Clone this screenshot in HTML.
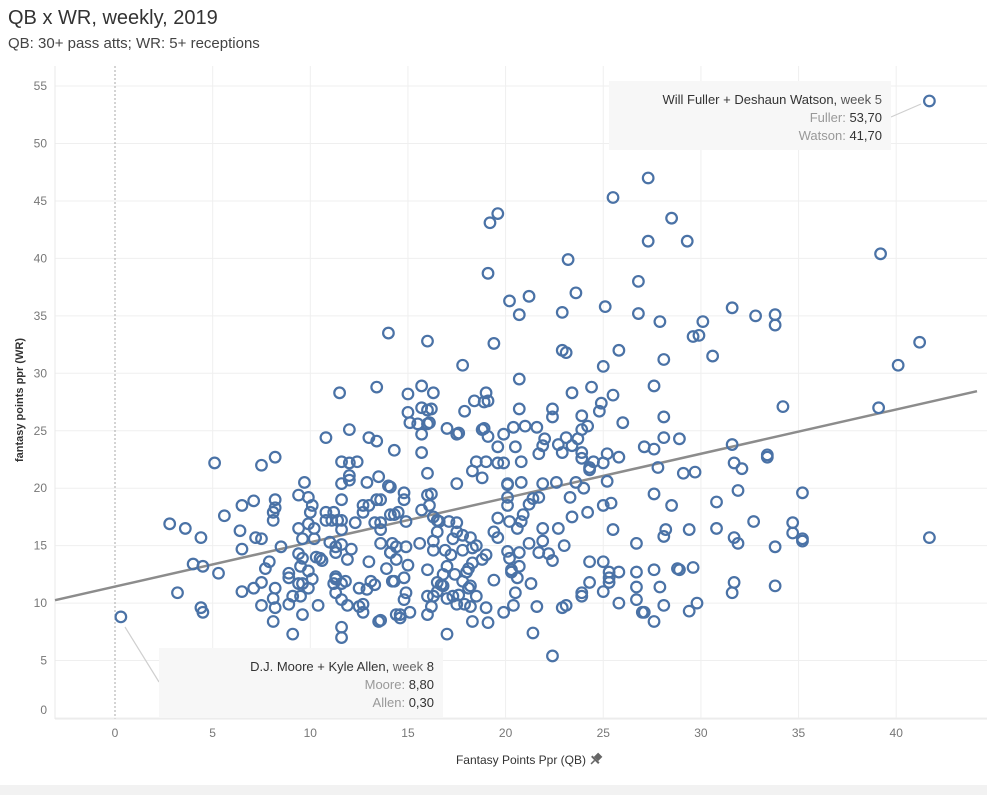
<!DOCTYPE html>
<html><head><meta charset="utf-8"><title>QB x WR, weekly, 2019</title>
<style>
html,body{margin:0;padding:0;background:#fff;}
body{width:987px;height:795px;overflow:hidden;font-family:"Liberation Sans",sans-serif;}
svg text{font-family:"Liberation Sans",sans-serif;}
</style></head>
<body>
<svg id="chart" width="987" height="795" viewBox="0 0 987 795" xmlns="http://www.w3.org/2000/svg">
  <text x="8" y="24" font-size="20" fill="#333">QB x WR, weekly, 2019</text>
  <text x="8" y="48" font-size="15" fill="#444">QB: 30+ pass atts; WR: 5+ receptions</text>
  <g id="grid"></g>
  <g id="axes"></g>
  <g id="trend"></g>
  <g id="marks"></g>
  <g id="annot">
    <line x1="891" y1="117" x2="921" y2="104" stroke="#cfcfcf" stroke-width="1.2"/>
    <rect x="609" y="81" width="282" height="69" fill="#f7f7f7"/>
    <text x="882" y="104" font-size="13" text-anchor="end" fill="#333">Will Fuller + Deshaun Watson, <tspan fill="#555">week 5</tspan></text>
    <text x="882" y="122" font-size="13" text-anchor="end" fill="#999">Fuller: <tspan fill="#333">53,70</tspan></text>
    <text x="882" y="140" font-size="13" text-anchor="end" fill="#999">Watson: <tspan fill="#333">41,70</tspan></text>
    <line x1="125" y1="627" x2="159" y2="682" stroke="#cfcfcf" stroke-width="1.2"/>
    <rect x="159" y="648" width="284" height="70" fill="#f7f7f7"/>
    <text x="434" y="671" font-size="13" text-anchor="end" fill="#333">D.J. Moore + Kyle Allen, <tspan fill="#666">week</tspan>  8</text>
    <text x="434" y="689" font-size="13" text-anchor="end" fill="#999">Moore: <tspan fill="#333">8,80</tspan></text>
    <text x="434" y="707" font-size="13" text-anchor="end" fill="#999">Allen: <tspan fill="#333">0,30</tspan></text>
  </g>
  <text transform="translate(23,400) rotate(-90)" font-size="11" font-weight="bold" text-anchor="middle" fill="#333">fantasy points ppr (WR)</text>
  <text x="521" y="764" font-size="12" text-anchor="middle" fill="#333">Fantasy Points Ppr (QB)</text>
  <g transform="translate(596,759) rotate(45)">
    <rect x="-3" y="-6" width="6" height="6" fill="#666"/>
    <rect x="-5" y="0" width="10" height="2" fill="#666"/>
    <line x1="0" y1="2" x2="0" y2="7" stroke="#666" stroke-width="1.5"/>
  </g>
  <rect x="0" y="785" width="987" height="10" fill="#f2f2f2"/>
</svg>
<script>
const xTicks = [0,5,10,15,20,25,30,35,40];
const yTicks = [0,5,10,15,20,25,30,35,40,45,50,55];
const qbPoints = [41.7,27.3,25.5,19.6,19.2,28.5,27.3,29.3,39.2,23.2,26.8,19.1,23.6,21.2,20.2,20.7,22.9,25.1,26.8,31.6,32.8,33.8,33.8,27.9,30.1,29.6,29.9,14.0,16.0,19.4,22.9,23.1,25.8,30.6,41.2,40.1,28.1,25.0,17.8,27.6,
11.5,13.4,23.4,24.4,20.7,25.5,
15.7,15.0,16.3,19.0,18.4,18.9,19.1,17.9,24.9,24.8,20.7,22.4,22.4,23.9,15.0,15.7,16.0,16.2,15.1,15.5,16.0,16.1,15.7,15.7,16.0,17.0,17.5,17.6,18.8,18.9,19.1,19.9,20.4,21.0,21.6,19.6,20.5,22.0,21.9,21.7,22.7,23.1,23.4,23.7,22.9,23.9,24.2,23.9,23.9,24.5,24.3,24.3,25.0,25.2,25.8,27.1,18.5,19.0,18.3,18.8,19.6,19.9,20.8,17.5,20.1,20.8,21.9,22.6,23.6,25.2,
28.1,39.1,34.2,28.1,28.9,26.0,
12.0,10.8,13.0,13.4,14.3,5.1,7.5,8.2,9.7,11.6,12.0,12.4,12.0,13.5,11.6,12.0,12.9,14.0,
27.6,31.6,33.4,33.4,27.8,29.1,29.7,31.7,32.1,27.6,28.5,30.8,31.9,35.2,28.2,28.1,29.4,30.8,32.7,34.7,34.7,35.2,35.2,31.7,31.9,33.8,41.7,27.6,28.8,28.9,29.6,27.9,31.6,31.7,33.8,28.1,27.1,27.6,29.4,29.8,
14.1,14.8,14.8,16.0,16.2,16.1,15.7,14.1,14.3,14.5,14.9,16.3,16.5,16.6,17.1,17.5,16.5,16.3,16.3,17.5,17.8,18.2,17.3,18.5,18.3,15.6,14.2,14.4,14.9,14.1,14.4,16.9,17.2,17.8,19.0,18.8,18.3,18.1,18.0,17.0,16.8,17.4,16.0,15.0,14.8,14.2,16.5,16.7,16.8,17.8,18.2,18.1,14.9,14.8,16.0,16.3,16.5,17.0,17.3,17.6,18.5,17.5,17.9,18.2,16.2,16.0,15.1,14.6,14.6,14.4,18.3,19.1,17.0,19.0,19.4,19.6,19.4,19.6,20.1,20.1,20.1,20.2,20.6,20.8,20.9,21.2,21.4,21.7,21.2,21.7,21.9,22.2,22.4,21.9,22.7,23.0,23.3,23.4,24.0,24.2,20.1,20.2,20.7,20.7,20.3,20.3,20.6,21.3,20.5,20.4,19.9,21.6,21.4,22.4,22.9,23.1,23.9,23.9,24.3,24.3,25.0,25.0,25.3,25.3,25.3,25.8,25.8,25.0,25.4,25.5,26.7,26.7,26.7,26.7,27.0,
2.8,3.6,4.4,4.0,4.5,5.3,3.2,4.4,4.5,5.6,6.5,7.1,6.4,6.5,7.2,7.5,6.5,7.1,7.5,7.5,7.9,7.7,8.2,8.2,8.1,8.1,8.5,8.2,8.1,8.2,8.1,9.1,8.9,8.9,8.9,9.1,9.4,9.9,10.1,10.0,9.9,9.4,9.6,10.2,10.2,9.4,9.6,9.5,9.9,10.1,9.4,9.6,9.9,9.5,9.6,10.4,10.3,10.5,10.6,10.8,11.2,10.8,11.1,11.4,11.6,11.6,11.0,11.3,11.6,12.1,11.3,11.9,13.0,11.3,11.3,11.2,11.6,11.8,11.3,11.6,11.9,11.6,11.6,12.5,12.9,13.1,13.3,12.5,12.7,12.7,13.5,12.3,12.7,13.0,12.7,11.6,13.3,13.6,13.6,13.6,14.1,13.9,13.4,13.6,13.6,14.3,
0.3];
const wrPoints = [53.7,47.0,45.3,43.9,43.1,43.5,41.5,41.5,40.4,39.9,38.0,38.7,37.0,36.7,36.3,35.1,35.3,35.8,35.2,35.7,35.0,35.1,34.2,34.5,34.5,33.2,33.3,33.5,32.8,32.6,32.0,31.8,32.0,31.5,32.7,30.7,31.2,30.6,30.7,28.9,
28.3,28.8,28.3,28.8,29.5,28.1,
28.9,28.2,28.3,28.3,27.6,27.5,27.6,26.7,27.4,26.7,26.9,26.9,26.2,26.3,26.6,27.0,26.8,26.9,25.7,25.6,25.6,25.7,24.7,23.1,21.3,25.2,24.7,24.8,25.1,25.2,24.5,24.7,25.3,25.4,25.3,23.6,23.6,24.3,23.7,23.0,23.8,24.4,23.7,24.3,23.1,25.1,25.4,23.1,22.6,22.3,21.8,21.6,22.2,23.0,22.7,23.6,22.3,22.3,21.5,20.9,22.2,22.2,22.3,20.4,20.4,20.5,20.4,20.5,20.5,20.6,
26.2,27.0,27.1,24.4,24.3,25.7,
25.1,24.4,24.4,24.1,23.3,22.2,22.0,22.7,20.5,22.3,22.2,22.3,21.1,21.0,20.4,20.7,20.5,20.2,
23.4,23.8,22.9,22.7,21.8,21.3,21.4,22.2,21.7,19.5,18.5,18.8,19.8,19.6,16.4,15.8,16.4,16.5,17.1,17.0,16.1,15.6,15.4,15.7,15.2,14.9,15.7,12.9,13.0,12.9,13.1,11.4,10.9,11.8,11.5,9.8,9.2,8.4,9.3,10.0,
20.1,19.6,19.0,19.4,19.5,18.5,18.1,17.7,17.7,17.9,17.1,17.5,17.2,17.1,17.1,17.0,16.2,15.4,14.6,16.2,15.9,15.7,15.6,15.0,14.8,15.2,15.2,14.9,14.9,14.4,13.8,14.6,14.2,14.6,14.2,13.8,13.5,13.0,12.7,13.2,12.5,12.5,12.9,13.3,12.2,11.9,11.8,11.6,11.5,11.9,11.5,11.3,10.9,10.3,10.6,10.6,11.0,10.4,10.6,10.7,10.6,9.9,9.9,9.7,9.7,9.0,9.2,9.0,8.7,9.0,8.4,8.3,7.3,9.6,12.0,17.4,16.2,15.7,20.3,19.2,18.5,17.1,16.5,17.1,17.7,18.6,19.1,19.2,15.2,14.4,15.4,14.3,13.7,16.5,16.5,15.0,19.2,17.5,20.0,17.9,14.5,13.9,14.4,13.2,12.9,12.7,12.2,11.7,10.9,9.8,9.2,9.7,7.4,5.4,9.6,9.8,10.9,10.6,11.8,13.6,13.6,11.0,12.7,12.2,11.8,12.7,10.0,18.5,18.7,16.4,15.2,12.7,11.4,10.3,9.2,
16.9,16.5,15.7,13.4,13.2,12.6,10.9,9.6,9.2,17.6,18.5,18.9,16.3,14.7,15.7,15.6,11.0,11.3,11.8,9.8,13.6,13.0,19.0,18.3,17.9,17.2,14.9,11.3,10.4,9.6,8.4,7.3,12.6,12.2,9.9,10.6,19.4,19.2,18.5,17.9,16.9,16.5,15.6,16.5,15.6,14.3,13.9,13.2,12.8,12.1,11.7,11.7,11.3,10.6,9.0,9.8,14.0,13.9,13.7,17.9,17.9,17.2,17.2,17.2,17.2,16.4,15.3,14.9,15.1,14.7,14.4,13.8,13.6,12.3,12.1,11.7,11.7,11.9,10.9,10.3,9.8,7.9,7.0,11.3,11.2,11.9,11.6,9.7,9.9,9.2,8.4,17.0,18.5,18.5,17.9,19.0,17.0,17.0,16.4,15.2,14.4,13.0,19.0,19.0,8.5,11.9,
8.8];

const NS = "http://www.w3.org/2000/svg";
const X0 = 115, XU = 19.53, Y0 = 718, YU = 11.49;
const plotL = 55, plotR = 987, plotT = 66, plotB = 719;
function xScale(v){ return X0 + v * XU; }
function yScale(v){ return Y0 - v * YU; }
function mk(tag, attrs, parent){
  const el = document.createElementNS(NS, tag);
  for (const k in attrs) el.setAttribute(k, attrs[k]);
  parent.appendChild(el);
  return el;
}
const grid = document.getElementById('grid');
const axes = document.getElementById('axes');
const marks = document.getElementById('marks');
const trend = document.getElementById('trend');

xTicks.forEach(t => {
  const x = xScale(t);
  if (t !== 0) {
    const gl = mk('line', {x1:x, y1:plotT, x2:x, y2:plotB, stroke:'#efefef', 'stroke-width':1}, grid);
    
    
  }
  const tx = mk('text', {x:x, y:737, 'font-size':12, 'text-anchor':'middle', fill:'#777'}, axes);
  tx.textContent = t;
  
  
});
yTicks.forEach(t => {
  const y = yScale(t);
  const gl = mk('line', {x1:plotL, y1:y, x2:plotR, y2:y, stroke:'#efefef', 'stroke-width':1}, grid);
  
  
  const ty = mk('text', {x:47, y:Math.min(y + 4, 714), 'font-size':12, 'text-anchor':'end', fill:'#777'}, axes);
  ty.textContent = t;
  
  
});
const zl = mk('line', {x1:xScale(0), y1:plotT, x2:xScale(0), y2:plotB, stroke:'#aaa', 'stroke-width':1, 'stroke-dasharray':'2,2'}, grid);


const bl = mk('line', {x1:plotL, y1:plotB, x2:plotR, y2:plotB, stroke:'#eaeaea', 'stroke-width':1}, grid);


const ll = mk('line', {x1:plotL, y1:plotT, x2:plotL, y2:plotB, stroke:'#eaeaea', 'stroke-width':1}, grid);



// linear trend (least squares)
const n = Math.min(qbPoints.length, wrPoints.length);
let sx=0, sy=0, sxx=0, sxy=0;
for (let i=0;i<n;i++){ sx+=qbPoints[i]; sy+=wrPoints[i]; sxx+=qbPoints[i]*qbPoints[i]; sxy+=qbPoints[i]*wrPoints[i]; }
const slope = (n*sxy - sx*sy)/(n*sxx - sx*sx);
const icpt = (sy - slope*sx)/n;
const xa = (plotL - X0)/XU, xb = (977 - X0)/XU;
const tl = mk('line', {x1:xScale(xa), y1:yScale(icpt+slope*xa), x2:xScale(xb), y2:yScale(icpt+slope*xb), stroke:'#8c8c8c', 'stroke-width':2.5}, trend);



for (let i=0;i<n;i++){
  const c = mk('circle', {cx:xScale(qbPoints[i]), cy:yScale(wrPoints[i]), r:5.3, fill:'none', stroke:'#4a72a6', 'stroke-width':2.2}, marks);
  
  
}
</script>
</body></html>
